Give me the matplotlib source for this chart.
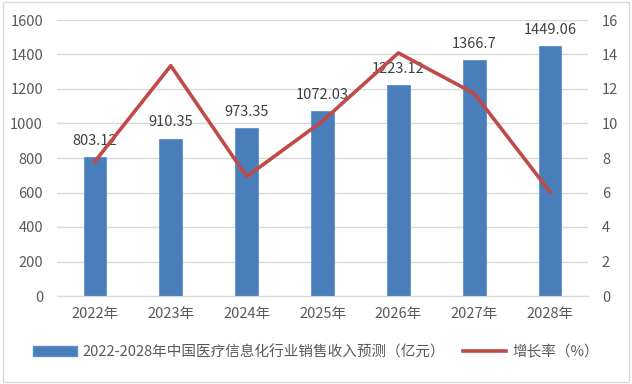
import matplotlib

matplotlib.use("Agg")
import matplotlib.pyplot as plt
from matplotlib.lines import Line2D
from matplotlib.patches import Patch

plt.rcParams["font.family"] = ["Noto Sans CJK SC", "DejaVu Sans"]

years = ["2022年", "2023年", "2024年", "2025年", "2026年", "2027年", "2028年"]
revenue = [803.12, 910.35, 973.35, 1072.03, 1223.12, 1366.7, 1449.06]
revenue_labels = ["803.12", "910.35", "973.35", "1072.03", "1223.12", "1366.7", "1449.06"]
growth = [7.8, 13.35, 6.92, 10.14, 14.09, 11.74, 6.03]

bar_color = "#4a7ebb"
line_color = "#be4b48"
text_color = "#595959"

fig = plt.figure(figsize=(6.32, 3.84), dpi=100)
ax = fig.add_axes([57 / 632, 1 - 296 / 384, 531 / 632, 276 / 384])
ax2 = ax.twinx()

x = list(range(len(years)))
ax.bar(x, revenue, width=0.3, color=bar_color, edgecolor="#5b8fcf", linewidth=0.6, zorder=2)
for xi, v, lab in zip(x, revenue, revenue_labels):
    ax.text(xi, v + 55, lab, ha="center", va="bottom", fontsize=10.5, color="#404040", zorder=5)

ax2.plot(x, growth, color=line_color, linewidth=2.6, zorder=3)

ax.set_xlim(-0.5, len(years) - 0.5)
ax.set_ylim(0, 1600)
ax.set_yticks(range(0, 1601, 200))
ax2.set_ylim(0, 16)
ax2.set_yticks(range(0, 17, 2))
ax.set_xticks(x)
ax.set_xticklabels(years)

ax.grid(axis="y", color="#d9d9d9", linewidth=1.0, zorder=0)
ax.set_axisbelow(True)
for a in (ax, ax2):
    for s in a.spines.values():
        s.set_visible(False)
    a.tick_params(length=0, labelsize=10.5, labelcolor=text_color)
ax.spines["bottom"].set_visible(True)
ax.spines["bottom"].set_color("#d9d9d9")
ax.tick_params(axis="x", pad=8)
ax.tick_params(axis="y", pad=10)
ax2.tick_params(axis="y", pad=10)

handles = [
    Patch(facecolor=bar_color, edgecolor="#5b8fcf"),
    Line2D([0], [0], color=line_color, linewidth=2.6),
]
labels = ["2022-2028年中国医疗信息化行业销售收入预测（亿元）", "增长率（%）"]
fig.legend(handles, labels, loc="center", bbox_to_anchor=(0.5, 1 - 352 / 384), ncol=2,
           frameon=False, fontsize=10.5, labelcolor=text_color, handlelength=3.0,
           handleheight=0.6, columnspacing=1.2, handletextpad=0.4)

border = plt.Rectangle((0.004, 0.004), 0.992, 0.99, transform=fig.transFigure,
                       fill=False, edgecolor="#d9d9d9", linewidth=1.0)
fig.patches.append(border)

fig.savefig("out.png", dpi=100, facecolor="white")
